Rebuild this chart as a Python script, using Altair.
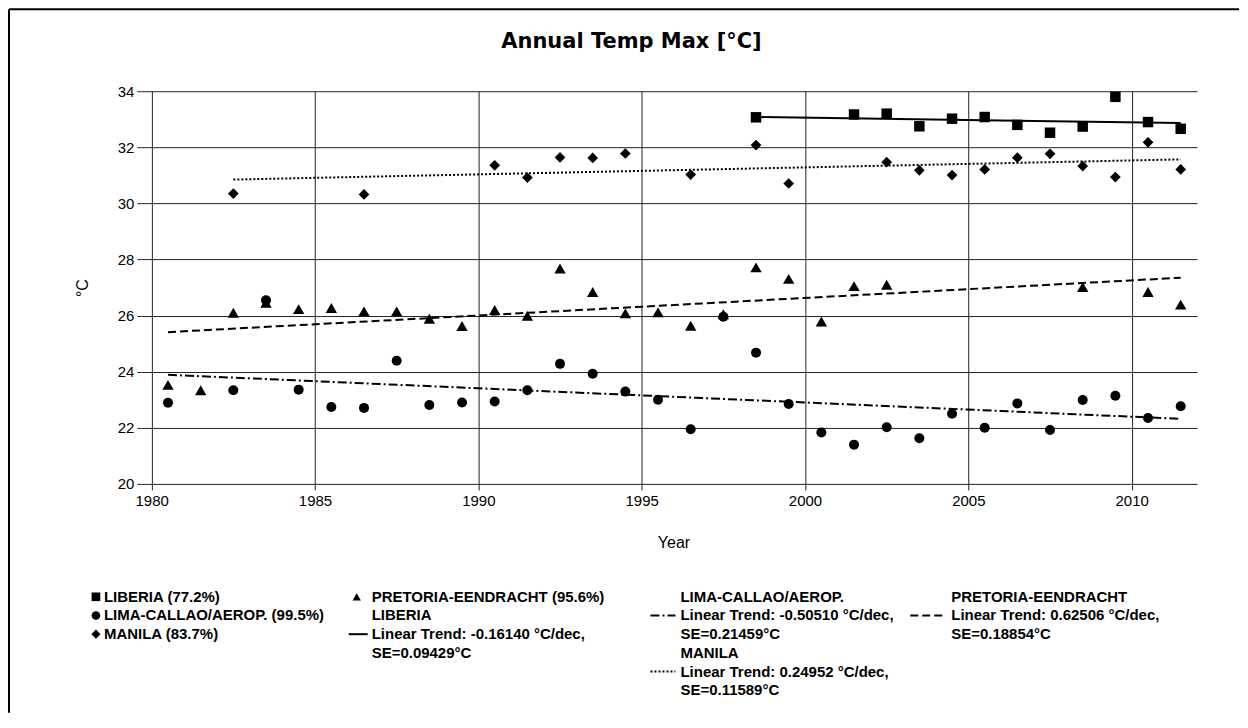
import altair as alt
import pandas as pd

# ---------------- data ----------------
stations = ["LIBERIA", "LIMA-CALLAO/AEROP.", "MANILA", "PRETORIA-EENDRACHT"]
coverage = ["77.2%", "99.5%", "83.7%", "95.6%"]
trend_per_dec = ["-0.16140", "-0.50510", "0.24952", "0.62506"]
trend_se = ["0.09429", "0.21459", "0.11589", "0.18854"]

liberia_years = [1998, 2001, 2002, 2003, 2004, 2005, 2006, 2007, 2008, 2009, 2010, 2011]
liberia_tmax = [33.07, 33.17, 33.20, 32.75, 33.02, 33.08, 32.80, 32.52, 32.74, 33.80, 32.90, 32.66]

lima_years = [1980, 1982, 1983, 1984, 1985, 1986, 1987, 1988, 1989, 1990, 1991, 1992, 1993,
              1994, 1995, 1996, 1997, 1998, 1999, 2000, 2001, 2002, 2003, 2004, 2005, 2006,
              2007, 2008, 2009, 2010, 2011]
lima_tmax = [22.89, 23.34, 26.55, 23.36, 22.74, 22.71, 24.39, 22.81, 22.90, 22.94, 23.34, 24.28,
             23.93, 23.29, 23.00, 21.95, 25.96, 24.68, 22.85, 21.83, 21.40, 22.02, 21.63, 22.50,
             22.00, 22.87, 21.92, 22.99, 23.14, 22.35, 22.77]

manila_years = [1982, 1986, 1990, 1991, 1992, 1993, 1994, 1996, 1998, 1999, 2002, 2003, 2004,
                2005, 2006, 2007, 2008, 2009, 2010, 2011]
manila_tmax = [30.35, 30.32, 31.36, 30.92, 31.64, 31.62, 31.78, 31.03, 32.08, 30.71, 31.47, 31.18,
               31.01, 31.21, 31.63, 31.77, 31.33, 30.94, 32.18, 31.21]

pretoria_years = [1980, 1981, 1982, 1983, 1984, 1985, 1986, 1987, 1988, 1989, 1990, 1991, 1992,
                  1993, 1994, 1995, 1996, 1997, 1998, 1999, 2000, 2001, 2002, 2008, 2010, 2011]
pretoria_tmax = [23.53, 23.34, 26.10, 26.46, 26.23, 26.27, 26.15, 26.15, 25.89, 25.63, 26.20, 25.99,
                 27.68, 26.84, 26.08, 26.12, 25.64, 26.05, 27.72, 27.31, 25.79, 27.05, 27.10, 27.02,
                 26.84, 26.39]

# trend lines: values at the first and last year
liberia_trend = [33.08, 32.87]
lima_trend = [23.89, 22.32]
manila_trend = [30.85, 31.57]
pretoria_trend = [25.41, 27.35]

x_ticks = [1980, 1985, 1990, 1995, 2000, 2005, 2010]
y_ticks = [20, 22, 24, 26, 28, 30, 32, 34]

# ---------------- build ----------------
series = [
    (liberia_years, liberia_tmax, liberia_trend, "square", 110, []),
    (lima_years, lima_tmax, lima_trend, "circle", 100, [9, 3, 2, 3]),
    (manila_years, manila_tmax, manila_trend, "diamond", 115, [2, 2]),
    (pretoria_years, pretoria_tmax, pretoria_trend, "triangle-up", 130, [8, 4]),
]

FONT = "Liberation Sans"

x_enc = alt.X(
    "x:Q",
    scale=alt.Scale(domain=[1979.67, 2012], nice=False, zero=False),
    axis=alt.Axis(values=x_ticks, format="d", title="Year", tickSize=6, labelPadding=4,
                  titleX=533, titleY=59, titleBaseline="middle", titleAlign="center"),
)
y_enc = alt.Y(
    "value:Q",
    scale=alt.Scale(domain=[20, 34], nice=False, zero=False),
    axis=alt.Axis(values=y_ticks, title="°C", tickSize=4, labelPadding=3,
                  titleX=-58, titleY=196.5, titleAngle=270, titleBaseline="middle",
                  titleAlign="center"),
)

layers = []
for (yrs, vals, trend, shape, size, dash), name in zip(series, stations):
    df = pd.DataFrame({"year": yrs, "value": vals, "station": name})
    pts = (
        alt.Chart(df)
        .transform_calculate(x="datum.year + 0.5")
        .mark_point(shape=shape, size=size, filled=True, opacity=1, color="black")
        .encode(x=x_enc, y=y_enc)
    )
    tdf = pd.DataFrame({"year": [yrs[0], yrs[-1]], "value": trend, "station": name})
    line_kwargs = dict(color="black", strokeWidth=2)
    if dash:
        line_kwargs["strokeDash"] = dash
    ln = (
        alt.Chart(tdf)
        .transform_calculate(x="datum.year + 0.5")
        .mark_line(**line_kwargs)
        .encode(x=x_enc, y=y_enc)
    )
    layers += [ln, pts]

one = pd.DataFrame({"k": [0]})

# title
layers.append(
    alt.Chart(one).mark_text(text="Annual Temp Max [°C]", font="DejaVu Sans", fontSize=21,
                             fontWeight="bold", align="center", baseline="middle", color="black")
    .encode(x=alt.value(491), y=alt.value(-49))
)

# frame lines (top and left)
layers.append(alt.Chart(one).mark_rule(color="black", strokeWidth=2)
              .encode(x=alt.value(-132), x2=alt.value(1099), y=alt.value(-82)))
layers.append(alt.Chart(one).mark_rule(color="black", strokeWidth=2)
              .encode(x=alt.value(-132), y=alt.value(-82), y2=alt.value(622)))

# legend
LH = 18.7
col1 = [f"{stations[0]} ({coverage[0]})", f"{stations[1]} ({coverage[1]})", f"{stations[2]} ({coverage[2]})"]
col2 = [f"{stations[3]} ({coverage[3]})", stations[0],
        f"Linear Trend: {trend_per_dec[0]} °C/dec,", f"SE={trend_se[0]}°C"]
col3 = [stations[1], f"Linear Trend: {trend_per_dec[1]} °C/dec,", f"SE={trend_se[1]}°C",
        stations[2], f"Linear Trend: {trend_per_dec[2]} °C/dec,", f"SE={trend_se[2]}°C"]
col4 = [stations[3], f"Linear Trend: {trend_per_dec[3]} °C/dec,", f"SE={trend_se[3]}°C"]

y0 = 506
for lines, xpos in [(col1, -37), (col2, 231), (col3, 540), (col4, 811)]:
    layers.append(
        alt.Chart(one).mark_text(text=lines, font=FONT, fontSize=15, fontWeight="bold",
                                 align="left", baseline="middle", lineHeight=LH, color="black")
        .encode(x=alt.value(xpos), y=alt.value(y0))
    )

for shape, xp, yp, sz in [("square", -45, y0, 75), ("circle", -45, y0 + LH, 75),
                          ("diamond", -45, y0 + 2 * LH, 85), ("triangle-up", 216, y0, 70)]:
    layers.append(alt.Chart(one).mark_point(shape=shape, size=sz, filled=True, opacity=1, color="black")
                  .encode(x=alt.value(xp), y=alt.value(yp)))

for (xa, xb, yp, dash) in [(208, 227, y0 + 2 * LH, []), (510, 535, y0 + LH, [9, 3, 2, 3]),
                           (510, 535, y0 + 4 * LH, [2, 2]), (770, 802, y0 + LH, [8, 4])]:
    kw = dict(color="black", strokeWidth=2)
    if dash:
        kw["strokeDash"] = dash
    layers.append(alt.Chart(one).mark_rule(**kw)
                  .encode(x=alt.value(xa), x2=alt.value(xb), y=alt.value(yp)))

chart = (
    alt.layer(*layers)
    .properties(width=1057, height=393, padding=0, background="white")
    .configure_view(stroke=None)
    .configure_axis(grid=True, gridColor="#222", gridWidth=1, gridOpacity=1, domain=False,
                    tickColor="#222", labelFont=FONT, labelFontSize=15, labelColor="black",
                    titleFont=FONT, titleFontSize=16, titleColor="black", titleFontWeight="normal")
)

chart.save("out.html", embed_options={"renderer": "svg", "actions": False})
